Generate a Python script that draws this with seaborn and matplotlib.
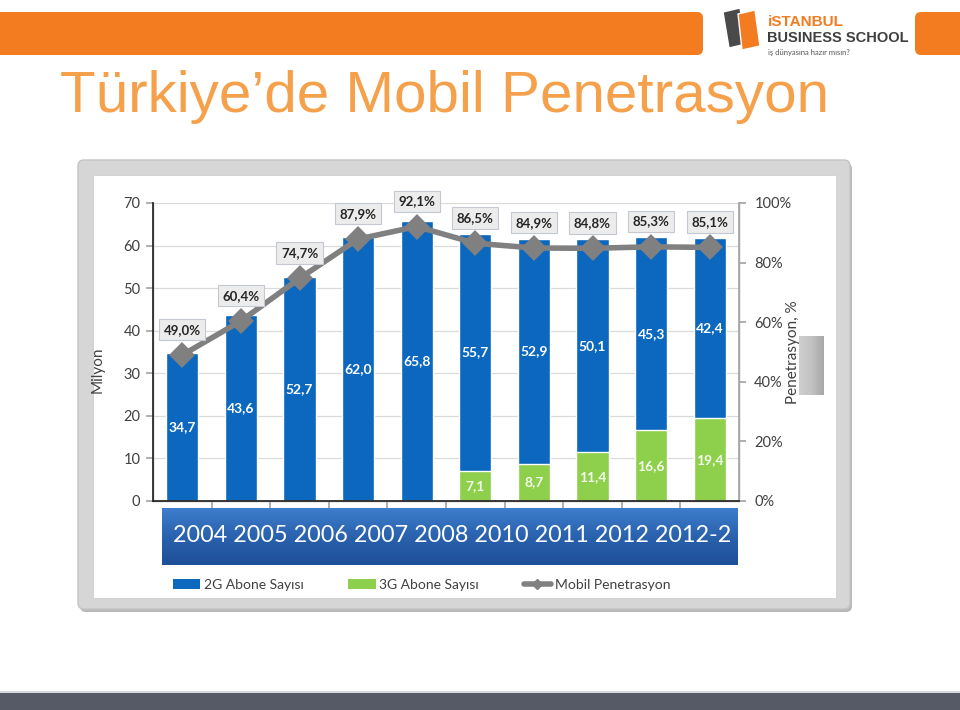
import numpy as np
import pandas as pd
import seaborn as sns
import matplotlib.pyplot as plt
from matplotlib.patches import FancyBboxPatch, Rectangle, Patch, Polygon
from matplotlib.lines import Line2D
from matplotlib.colors import LinearSegmentedColormap

# veriler
donem = ["2004", "2005", "2006", "2007", "2008", "2009", "2010", "2011", "2012", "2012-2"]
abone_2g = [34.7, 43.6, 52.7, 62.0, 65.8, 55.7, 52.9, 50.1, 45.3, 42.4]
abone_3g = [0.0, 0.0, 0.0, 0.0, 0.0, 7.1, 8.7, 11.4, 16.6, 19.4]
penetrasyon = [49.0, 60.4, 74.7, 87.9, 92.1, 86.5, 84.9, 84.8, 85.3, 85.1]
bant_yazi = "2004 2005 2006 2007 2008 2010 2011 2012 2012-2"
baslik = "Türkiye’de Mobil Penetrasyon"

df = pd.DataFrame({"donem": donem, "2G": abone_2g, "3G": abone_3g, "pen": penetrasyon})
df["toplam"] = df["2G"] + df["3G"]

mavi = "#0B68BE"
yesil = "#8ECF4B"
gri = "#808080"
turuncu = "#F47C20"

sns.set_theme(style="white")
plt.rcParams["font.family"] = ["Lato", "DejaVu Sans"]

fig = plt.figure(figsize=(9.6, 7.1), dpi=100)

# slayt zemini, piksel koordinatlari
bg = fig.add_axes([0, 0, 1, 1], zorder=0)
bg.axis("off")

bg.add_patch(FancyBboxPatch((-20, 12), 723, 43, boxstyle="round,pad=0,rounding_size=6",
                            fc=turuncu, ec="none"))
bg.add_patch(FancyBboxPatch((915, 12), 70, 43, boxstyle="round,pad=0,rounding_size=6",
                            fc=turuncu, ec="none"))

# logo
bg.add_patch(Polygon([[723, 12], [740, 8], [746, 44], [729, 48]], closed=True, fc="#4A4A4A"))
bg.add_patch(Polygon([[738, 14], [755, 10], [760, 46], [742, 50]], closed=True, fc=turuncu))
bg.text(768, 22, "iSTANBUL", fontsize=11, fontweight="bold", color=turuncu, va="center",
        family="Liberation Sans")
bg.text(767, 38, "BUSINESS SCHOOL", fontsize=10.5, fontweight="bold", color="#3F3F3F", va="center",
        family="Liberation Sans")
bg.text(768, 52, "iş dünyasına hazır mısın?", fontsize=5.5, color="#555555", va="center")

bg.text(60, 97, baslik, fontsize=42, color="#F5A14C", va="center",
        family=["Liberation Sans", "DejaVu Sans"])

# grafik cercevesi
bg.add_patch(FancyBboxPatch((80, 163), 772, 449, boxstyle="round,pad=0,rounding_size=6",
                            fc="#B8B8B8", ec="none"))
bg.add_patch(FancyBboxPatch((78, 160), 772, 449, boxstyle="round,pad=0,rounding_size=6",
                            fc="#D6D6D6", ec="#C4C4C4"))
bg.add_patch(Rectangle((93, 175), 743, 423, fc="white", ec="#CFCFCF", lw=0.6))

# yil bandi
cm = LinearSegmentedColormap.from_list("bant", ["#3D7DCC", "#2A62AE", "#1E4F97"])
bg.imshow(np.linspace(0, 1, 60).reshape(-1, 1), extent=[162, 738, 565, 508], cmap=cm,
          aspect="auto", origin="upper", zorder=2)
bg.text(452, 536, bant_yazi, fontsize=16.8, color="white", ha="center", va="center", zorder=3)

# gri kutu
cm2 = LinearSegmentedColormap.from_list("kutu", ["#CFCFCF", "#C2C2C2", "#A8A8A8"])
bg.imshow(np.linspace(0, 1, 30).reshape(1, -1), extent=[799, 824, 395, 336], cmap=cm2,
          aspect="auto", origin="upper", zorder=2)

# alt koyu serit
bg.add_patch(Rectangle((0, 693), 960, 20, fc="#555A66", ec="none"))
bg.add_patch(Rectangle((0, 691), 960, 2, fc="#D8D9DC", ec="none"))

bg.set_xlim(0, 960)
bg.set_ylim(710, 0)

# ana grafik
L, R, T, B = 153, 739, 203, 501
ax = fig.add_axes([L / 960, 1 - B / 710, (R - L) / 960, (B - T) / 710], zorder=1)
ax.set_facecolor("none")
sns.barplot(data=df, x="donem", y="toplam", color=mavi, width=0.55, saturation=1, ax=ax, zorder=2)
sns.barplot(data=df, x="donem", y="3G", color=yesil, width=0.55, saturation=1, ax=ax, zorder=2)

for i, r in df.iterrows():
    ax.text(i, r["3G"] + r["2G"] / 2, f"{r['2G']:.1f}".replace(".", ","), ha="center",
            va="center", color="white", fontsize=10, fontweight="bold", zorder=3)
    if r["3G"] > 0:
        ax.text(i, r["3G"] / 2, f"{r['3G']:.1f}".replace(".", ","), ha="center",
                va="center", color="#F4FAEE", fontsize=10, fontweight="bold", zorder=3)

ax.set_xlim(-0.5, 9.5)
ax.set_ylim(0, 70)
ax.set_yticks(range(0, 71, 10))
ax.set_xticks(np.arange(0.5, 9.5, 1))
ax.set_xticklabels([])
ax.set_xlabel("")
ax.set_ylabel("Milyon", fontsize=11, color="#404040")
ax.yaxis.set_label_coords(-0.082, 0.44)
ax.grid(axis="y", color="#DADADA", lw=0.9, zorder=0)
ax.set_axisbelow(True)
ax.tick_params(axis="y", labelsize=10.5, labelcolor="#404040", length=5, color="#A6A6A6",
               direction="out", left=True, pad=4)
ax.tick_params(axis="x", length=5, color="#A6A6A6", direction="out", bottom=True)
ax.spines["top"].set_visible(False)
for s in ["left", "bottom", "right"]:
    ax.spines[s].set_color("#A6A6A6")
    ax.spines[s].set_linewidth(1)

ax2 = ax.twinx()
sns.pointplot(data=df, x="donem", y="pen", color=gri, markers="D", markersize=10,
              linewidth=4, ax=ax2)
ax2.set_xlim(-0.5, 9.5)
ax2.set_ylim(0, 100)
ax2.set_yticks(range(0, 101, 20))
ax2.set_yticklabels([f"{v}%" for v in range(0, 101, 20)])
ax2.set_ylabel("Penetrasyon, %", fontsize=11, color="#404040")
ax2.yaxis.set_label_coords(1.08, 0.5)
ax2.tick_params(axis="y", labelsize=10.5, labelcolor="#404040", length=5, color="#A6A6A6",
                direction="out", right=True, pad=6)
ax2.spines["top"].set_visible(False)
ax2.spines["right"].set_color("#A6A6A6")
ax2.grid(False)

for i, p in enumerate(penetrasyon):
    ax2.text(i, p + 8.5, f"{p:.1f}%".replace(".", ","), ha="center", va="center",
             fontsize=9.5, fontweight="bold", color="#262626", zorder=5,
             bbox=dict(boxstyle="square,pad=0.35", fc="#ECECEC", ec="#C3C8D2", lw=0.8))

# lejant
tutamak = [Patch(fc=mavi, ec="none"), Patch(fc=yesil, ec="none"),
           Line2D([0], [0], color=gri, lw=4, marker="D", markersize=5, markevery=[1])]
fig.legend(tutamak, ["2G Abone Sayısı", "3G Abone Sayısı", "Mobil Penetrasyon"],
           loc="center left", bbox_to_anchor=(160 / 960, 1 - 585 / 710), ncol=3,
           frameon=False, fontsize=10, labelcolor="#404040", handlelength=2.0,
           handleheight=0.7, handletextpad=0.25, columnspacing=3.2)

fig.savefig("out.png", dpi=100)
